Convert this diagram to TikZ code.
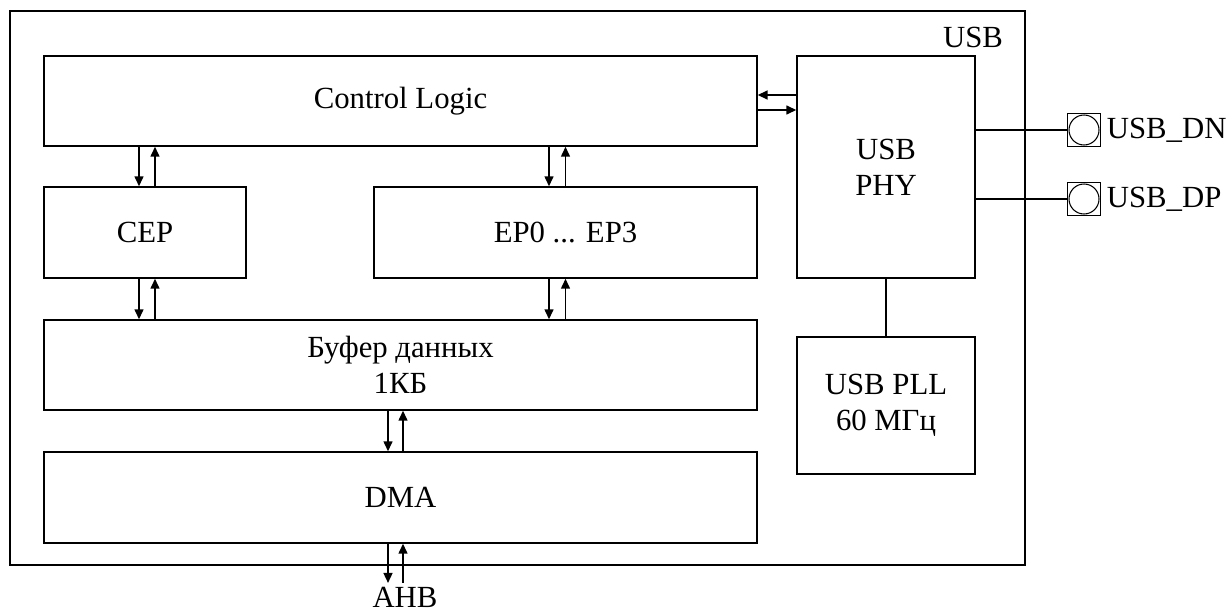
\documentclass[tikz,border=0pt]{standalone}
\usepackage{fontspec}
\setmainfont{Liberation Serif}
\usetikzlibrary{arrows.meta,positioning}

\begin{document}
\begin{tikzpicture}[x=0.02cm, y=-0.02cm, font=\fontsize{17.5}{20.5}\selectfont,
  blk/.style={rectangle, draw=black, line width=0.85pt, align=center, inner sep=0pt},
  arr/.style={-{Triangle[length=0.2cm,width=0.18cm]}, line width=0.85pt},
  pad/.style={rectangle, draw=black, line width=0.85pt, minimum size=0.66cm, inner sep=0pt,
    path picture={\draw[line width=0.6pt] (path picture bounding box.center) circle (0.3cm);}}]
\useasboundingbox (0,0) rectangle (1227,612);

\node[blk, minimum width=20.3cm, minimum height=11.08cm] (usb) at (517.5,288) {};
\node (usbname) at (973,37) {USB};

\node[blk, minimum width=14.26cm, minimum height=1.8cm] (ctrl) at (400.5,101) {Control Logic};
\node[blk, minimum width=3.56cm, minimum height=4.44cm] (phy) at (886,167) {USB\\PHY};
\node[blk, minimum width=4.04cm, minimum height=1.82cm] (cep) at (145,232.5) {CEP};
\node[blk, minimum width=7.66cm, minimum height=1.82cm] (ep) at (565.5,232.5) {EP0 ... EP3};
\node[blk, minimum width=14.26cm, minimum height=1.8cm] (buf) at (400.5,365) {Буфер данных\\1КБ};
\node[blk, minimum width=14.26cm, minimum height=1.82cm] (dma) at (400.5,497.5) {DMA};
\node[blk, minimum width=3.56cm, minimum height=2.74cm] (pll) at (886,405.5) {USB PLL\\60 МГц};

\node[pad] (pindn) at (1084,130) {};
\node[pad] (pindp) at (1084,199) {};
\node[right=0pt of pindn, inner sep=3pt] (dnname) {USB\_DN};
\node[right=0pt of pindp, inner sep=3pt] (dpname) {USB\_DP};
\node[inner sep=2pt] (ahb) at (405,597) {AHB};

\draw[arr] ([xshift=-0.12cm]cep.north |- ctrl.south) -- ([xshift=-0.12cm]cep.north);
\draw[arr] ([xshift=0.2cm]cep.north) -- ([xshift=0.2cm]cep.north |- ctrl.south);
\draw[arr] ([xshift=-0.33cm]ep.north |- ctrl.south) -- ([xshift=-0.33cm]ep.north);
\draw[arr] (ep.north) -- (ep.north |- ctrl.south);

\draw[arr] ([xshift=-0.12cm]cep.south) -- ([xshift=-0.12cm]cep.south |- buf.north);
\draw[arr] ([xshift=0.2cm]cep.south |- buf.north) -- ([xshift=0.2cm]cep.south);
\draw[arr] ([xshift=-0.33cm]ep.south) -- ([xshift=-0.33cm]ep.south |- buf.north);
\draw[arr] (ep.south |- buf.north) -- (ep.south);

\draw[arr] ([xshift=-0.25cm]buf.south) -- ([xshift=-0.25cm]dma.north);
\draw[arr] ([xshift=0.05cm]dma.north) -- ([xshift=0.05cm]buf.south);
\draw[arr] ([xshift=-0.25cm]dma.south) -- ([xshift=-0.25cm]dma.south |- ahb.north);
\draw[arr] ([xshift=0.05cm]dma.south |- ahb.north) -- ([xshift=0.05cm]dma.south);

\draw[arr] ([yshift=0.12cm]phy.west |- ctrl.east) -- ([yshift=0.12cm]ctrl.east);
\draw[arr] ([yshift=-0.18cm]ctrl.east) -- ([yshift=-0.18cm]phy.west |- ctrl.east);

\draw[line width=0.85pt] (phy) -- (pll);
\draw[line width=0.85pt] (pindn.west -| phy.east) -- (pindn.west);
\draw[line width=0.85pt] (pindp.west -| phy.east) -- (pindp.west);
\end{tikzpicture}
\end{document}
